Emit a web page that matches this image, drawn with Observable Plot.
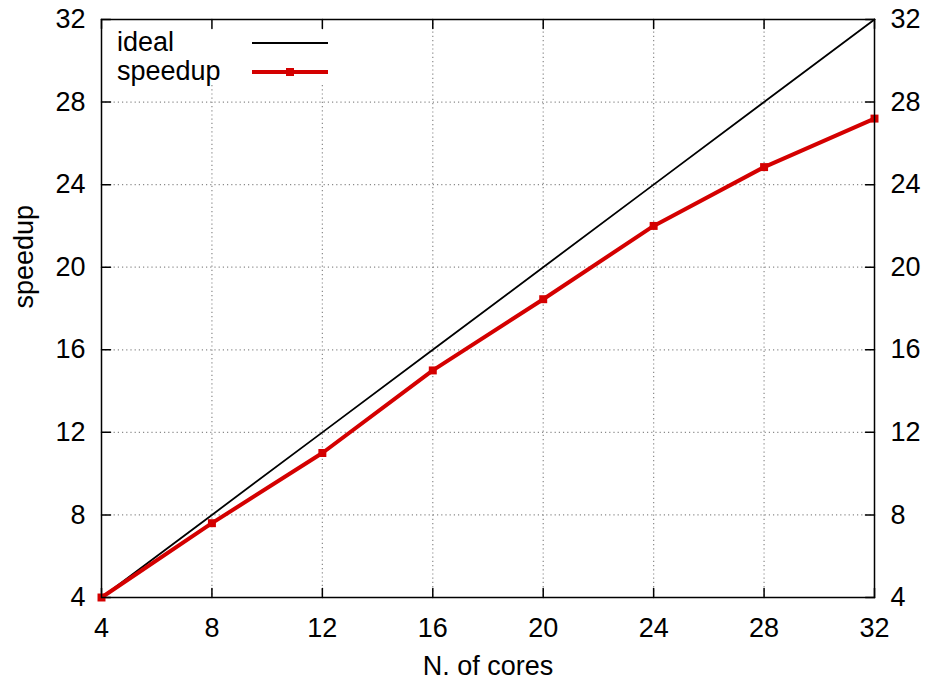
<!DOCTYPE html>
<html>
<head>
<meta charset="utf-8">
<script src="https://cdn.jsdelivr.net/npm/d3@7"></script>
<script src="https://cdn.jsdelivr.net/npm/@observablehq/plot@0.6"></script>
<style>
  html, body { margin: 0; padding: 0; background: #fff; }
  #wrap { position: relative; width: 927px; height: 687px; font-family: "Liberation Sans", Arial, Helvetica, sans-serif; }
  #legend { position: absolute; left: 117px; top: 28px; font-size: 27px; line-height: 29px; color: #000; }
  #legend .row { display: flex; align-items: center; height: 29px; }
  #legend .lab { width: 135px; }
</style>
</head>
<body>
<div id="wrap"></div>
<script>
// ---- data ----
const cores = [4, 8, 12, 16, 20, 24, 28, 32];
const ideal = [4, 8, 12, 16, 20, 24, 28, 32];
const speedup = [4, 7.6, 11.0, 15.0, 18.45, 22.0, 24.85, 27.2];
const xTicks = [4, 8, 12, 16, 20, 24, 28, 32];
const yTicks = [4, 8, 12, 16, 20, 24, 28, 32];
const seriesNames = ["ideal", "speedup"];
const xLabel = "N. of cores";
const yLabel = "speedup";

const idealData = cores.map((c, i) => ({cores: c, value: ideal[i]}));
const speedData = cores.map((c, i) => ({cores: c, value: speedup[i]}));

const RED = "#d40000";
const FS = 27;
const tickShape = {draw(ctx, l) { ctx.moveTo(0, 0); ctx.lineTo(0, -l); }};
const gridStyle = {stroke: "#8a8a8a", strokeOpacity: 1, strokeWidth: 1.2, strokeDasharray: "1.2,3"};
const innerX = xTicks.slice(1, -1);
const innerY = yTicks.slice(1, -1);

const plot = Plot.plot({
  width: 927,
  height: 687,
  marginLeft: 101,
  marginRight: 53,
  marginTop: 19,
  marginBottom: 90,
  style: {fontFamily: "'Liberation Sans', Arial, Helvetica, sans-serif", fontSize: FS + "px", background: "#fff", color: "#000"},
  x: {domain: [4, 32]},
  y: {domain: [4, 32]},
  marks: [
    // grid (x lines under the legend box stop below it)
    Plot.gridX(innerX.filter(d => d <= 12), {...gridStyle, insetTop: 66}),
    Plot.gridX(innerX.filter(d => d > 12), gridStyle),
    Plot.gridY(innerY, gridStyle),
    // axes labels
    Plot.axisX(xTicks, {anchor: "bottom", tickSize: 0, tickPadding: 20, label: null}),
    Plot.axisY(yTicks, {anchor: "left", tickSize: 0, tickPadding: 16, label: null}),
    Plot.axisY(yTicks, {anchor: "right", tickSize: 0, tickPadding: 16, label: null}),
    // inward ticks on all four sides
    Plot.vector(xTicks, {x: d => d, frameAnchor: "bottom", length: 9, rotate: 0, anchor: "start", shape: tickShape, stroke: "#000", strokeWidth: 1.5}),
    Plot.vector(xTicks, {x: d => d, frameAnchor: "top", length: 9, rotate: 180, anchor: "start", shape: tickShape, stroke: "#000", strokeWidth: 1.5}),
    Plot.vector(yTicks, {y: d => d, frameAnchor: "left", length: 9, rotate: 90, anchor: "start", shape: tickShape, stroke: "#000", strokeWidth: 1.5}),
    Plot.vector(yTicks, {y: d => d, frameAnchor: "right", length: 9, rotate: 270, anchor: "start", shape: tickShape, stroke: "#000", strokeWidth: 1.5}),
    // axis titles
    Plot.text([xLabel], {frameAnchor: "bottom", dy: 77, text: d => d, fontSize: FS}),
    Plot.text([yLabel], {frameAnchor: "left", dx: -77, rotate: -90, text: d => d, fontSize: FS}),
    // series
    Plot.line(idealData, {x: "cores", y: "value", stroke: "#000", strokeWidth: 1.8}),
    Plot.line(speedData, {x: "cores", y: "value", stroke: RED, strokeWidth: 4}),
    Plot.dot(speedData, {x: "cores", y: "value", fill: RED, r: 4.5, symbol: "square"}),
    Plot.frame({stroke: "#000", strokeWidth: 1.5})
  ]
});

const wrap = document.getElementById("wrap");
wrap.appendChild(plot);

// legend (inside plot, top-left)
const legend = document.createElement("div");
legend.id = "legend";
legend.innerHTML = `
  <div class="row"><span class="lab">${seriesNames[0]}</span>
    <svg width="76" height="12"><line x1="0" x2="76" y1="6" y2="6" stroke="#000" stroke-width="1.8"/></svg></div>
  <div class="row"><span class="lab">${seriesNames[1]}</span>
    <svg width="76" height="12"><line x1="0" x2="76" y1="6" y2="6" stroke="${RED}" stroke-width="4"/><rect x="34" y="2" width="8" height="8" fill="${RED}"/></svg></div>`;
wrap.appendChild(legend);
</script>
</body>
</html>
